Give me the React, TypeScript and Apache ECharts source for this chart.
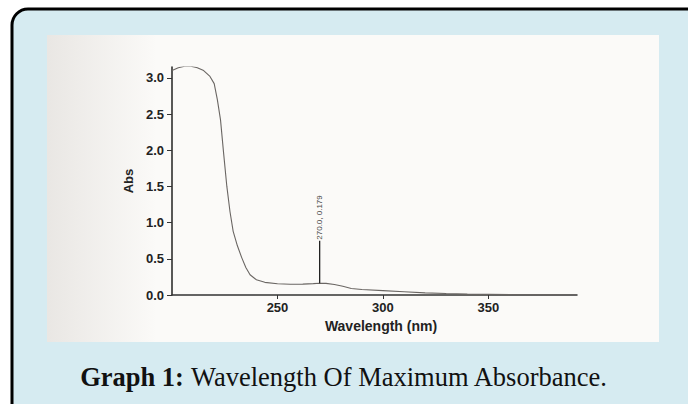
import React, { useEffect, useRef } from "react";
import * as echarts from "echarts";

// Scanned UV spectrum: wavelength (nm) vs absorbance
const wavelengths = [200, 203, 206, 209, 212, 215, 218, 220, 221.5, 223, 224.5, 226, 227.5, 229, 231, 233, 235, 237, 240, 244, 250, 256, 262, 267, 270, 273, 277, 281, 285, 290, 300, 310, 320, 330, 340, 350, 365, 380, 392];
const absorbance = [3.10, 3.14, 3.16, 3.16, 3.14, 3.10, 3.02, 2.92, 2.70, 2.42, 1.95, 1.50, 1.15, 0.88, 0.68, 0.52, 0.38, 0.28, 0.21, 0.175, 0.155, 0.148, 0.15, 0.157, 0.163, 0.16, 0.145, 0.12, 0.09, 0.075, 0.06, 0.045, 0.03, 0.02, 0.012, 0.008, 0.004, 0.002, 0.0];

const peakWavelength = [270, 270];
const peakMarker = [0.163, 0.75];
const peakLabel = "270.0, 0.179";

const xTicks = [250, 300, 350];
const yTicks = [0, 0.5, 1.0, 1.5, 2.0, 2.5, 3.0];

const captionBold = "Graph 1:";
const captionText = " Wavelength Of Maximum Absorbance.";

export default function App() {
  const ref = useRef<HTMLDivElement>(null);
  useEffect(() => {
    if (!ref.current) return;
    const chart = echarts.init(ref.current, undefined, { renderer: "svg" });
    const curve = wavelengths.map((w, i) => [w, absorbance[i]]);
    const marker = peakWavelength.map((w, i) =>
      i === peakWavelength.length - 1
        ? {
            value: [w, peakMarker[i]],
            label: {
              show: true,
              formatter: peakLabel,
              position: "top",
              distance: 1,
              rotate: 90,
              align: "left",
              verticalAlign: "middle",
              fontSize: 8,
              fontFamily: "Liberation Sans",
              color: "#444",
            },
          }
        : { value: [w, peakMarker[i]] }
    );
    chart.setOption({
      animation: false,
      backgroundColor: "#ffffff",
      graphic: [
        {
          type: "rect",
          z: -20,
          shape: { x: 12, y: 9, width: 700, height: 420, r: 16 },
          style: { fill: "#d6ebf1", stroke: "#000", lineWidth: 3 },
        },
        {
          type: "rect",
          z: -15,
          shape: { x: 47, y: 35, width: 612, height: 307 },
          style: { fill: "#fbfaf8" },
        },
        {
          type: "rect",
          z: -14,
          shape: { x: 47, y: 35, width: 110, height: 307 },
          style: {
            fill: new echarts.graphic.LinearGradient(0, 0, 1, 0, [
              { offset: 0, color: "rgba(200,195,190,0.35)" },
              { offset: 1, color: "rgba(200,195,190,0)" },
            ]),
          },
        },
        {
          type: "text",
          z: 10,
          x: 344,
          y: 377,
          style: {
            text: "{b|" + captionBold + "}{r|" + captionText + "}",
            align: "center",
            verticalAlign: "middle",
            rich: {
              b: { fontFamily: "Liberation Serif", fontWeight: "bold", fontSize: 26.5, fill: "#111" },
              r: { fontFamily: "Liberation Serif", fontSize: 26.5, fill: "#111" },
            },
          },
        },
      ],
      grid: { left: 172, right: 111, top: 67, bottom: 109, containLabel: false },
      xAxis: {
        type: "value",
        min: 200,
        max: 392,
        interval: 50,
        name: "Wavelength (nm)",
        nameLocation: "middle",
        nameGap: 22,
        nameTextStyle: {
          fontFamily: "Liberation Sans",
          fontWeight: "bold",
          fontSize: 14,
          color: "#222",
          padding: [0, 0, 0, 13],
        },
        axisLine: { lineStyle: { color: "#333", width: 1.5 } },
        axisTick: { customValues: xTicks, length: 4, lineStyle: { color: "#333" } },
        axisLabel: {
          customValues: xTicks,
          margin: 6,
          fontFamily: "Liberation Sans",
          fontWeight: "bold",
          fontSize: 13,
          color: "#222",
        },
        splitLine: { show: false },
      },
      yAxis: {
        type: "value",
        min: 0,
        max: 3.15,
        name: "Abs",
        nameLocation: "middle",
        nameGap: 36,
        nameTextStyle: {
          fontFamily: "Liberation Sans",
          fontWeight: "bold",
          fontSize: 13,
          color: "#222",
        },
        axisLine: { show: true, lineStyle: { color: "#222", width: 1.5 } },
        axisTick: { show: true, customValues: yTicks, length: 5, lineStyle: { color: "#333" } },
        axisLabel: {
          customValues: yTicks,
          margin: 8,
          formatter: (v: number) => v.toFixed(1),
          fontFamily: "Liberation Sans",
          fontWeight: "bold",
          fontSize: 13,
          color: "#222",
        },
        splitLine: { show: false },
      },
      series: [
        {
          type: "line",
          data: curve,
          symbol: "none",
          lineStyle: { color: "#6a6663", width: 1.1 },
          silent: true,
        },
        {
          type: "line",
          data: marker,
          symbol: "circle",
          symbolSize: 0,
          showSymbol: true,
          lineStyle: { color: "#222", width: 1.3 },
          silent: true,
        },
      ],
    });
    return () => chart.dispose();
  }, []);
  return (
    <div
      ref={ref}
      style={{ position: "fixed", left: 0, top: 0, width: 688, height: 404 }}
    />
  );
}
